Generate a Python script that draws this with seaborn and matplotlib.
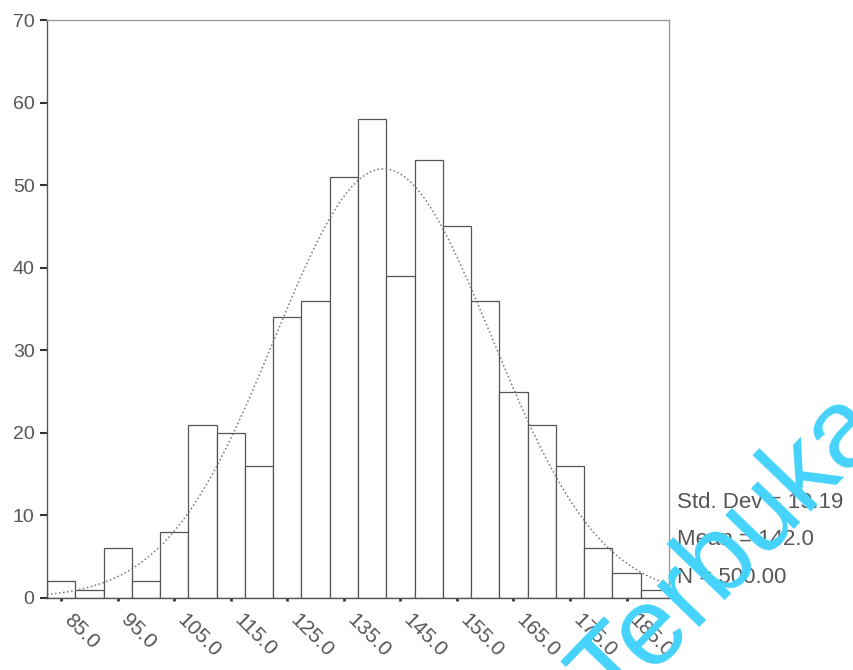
import numpy as np
import pandas as pd
import matplotlib.pyplot as plt
import matplotlib.transforms as mtransforms
import seaborn as sns

# bin centres (width 5) and counts
bin_centers = [85, 90, 95, 100, 105, 110, 115, 120, 125, 130, 135,
               140, 145, 150, 155, 160, 165, 170, 175, 180, 185, 190]
counts = [2, 1, 6, 2, 8, 21, 20, 16, 34, 36, 51,
          58, 39, 53, 45, 36, 25, 21, 16, 6, 3, 1]
x_ticks = [85, 95, 105, 115, 125, 135, 145, 155, 165, 175, 185]
y_ticks = [0, 10, 20, 30, 40, 50, 60, 70]

# summary statistics shown beside the plot
std_dev = 19.19
mean = 142.0
n_total = 500
bin_width = 5

df = pd.DataFrame({'value': bin_centers, 'count': counts})

sns.set_style('white')
plt.rcParams['font.family'] = ['Liberation Sans', 'DejaVu Sans']

fig = plt.figure(figsize=(8.54, 6.7), dpi=100)
ax = fig.add_axes([47 / 854, 1 - 598 / 670, 622 / 854, 578 / 670])

sns.histplot(data=df, x='value', weights='count', binwidth=bin_width,
             binrange=(82.5, 192.5), color='white', edgecolor='#555555',
             linewidth=0.9, alpha=1, ax=ax)

# fitted normal curve from the reported mean / std dev
xs = np.linspace(82.5, 192.5, 300)
ys = n_total * bin_width / (std_dev * np.sqrt(2 * np.pi)) * np.exp(-0.5 * ((xs - mean) / std_dev) ** 2)
sns.lineplot(x=xs, y=ys, ax=ax, color='#777777', linestyle=':', linewidth=1.1)

ax.set_xlim(82.5, 192.5)
ax.set_ylim(0, 70)
ax.set_xlabel('')
ax.set_ylabel('')

ax.set_yticks(y_ticks)
ax.set_yticklabels([str(v) for v in y_ticks], fontsize=14, color='#555555')
ax.set_xticks(x_ticks)
ax.set_xticklabels([])

# slanted x labels, pushed below/right of their ticks like the SPSS output
lab_trans = ax.get_xaxis_transform() + mtransforms.ScaledTranslation(0.06, -0.19, fig.dpi_scale_trans)
for v in x_ticks:
    ax.text(v, 0, '%.1f' % v, transform=lab_trans, fontsize=15, color='#555555',
            rotation=-45, rotation_mode='anchor', ha='left', va='center')

ax.tick_params(axis='y', direction='out', length=5, width=1.5, color='#333333', pad=4, left=True)
ax.tick_params(axis='x', direction='out', length=2.5, width=2, color='#333333', pad=2, bottom=True)

for side in ['left', 'bottom']:
    ax.spines[side].set_color('#555555')
    ax.spines[side].set_linewidth(1.0)
for side in ['top', 'right']:
    ax.spines[side].set_color('#999999')
    ax.spines[side].set_linewidth(1.0)

fig.text(677 / 854, 1 - 508 / 670, 'Std. Dev = %.2f' % std_dev, fontsize=16, color='#555555', va='baseline')
fig.text(677 / 854, 1 - 545 / 670, 'Mean = %.1f' % mean, fontsize=16, color='#555555', va='baseline')
fig.text(677 / 854, 1 - 583 / 670, 'N = %.2f' % n_total, fontsize=16, color='#555555', va='baseline')

# watermark (runs off the right edge, as in the source image)
fig.text(555 / 854, 1 - 658 / 670, 'Terbuka', fontsize=80, color='#45d3fb',
         rotation=46, rotation_mode='anchor', ha='left', va='top')

fig.savefig('out.png', dpi=100)
